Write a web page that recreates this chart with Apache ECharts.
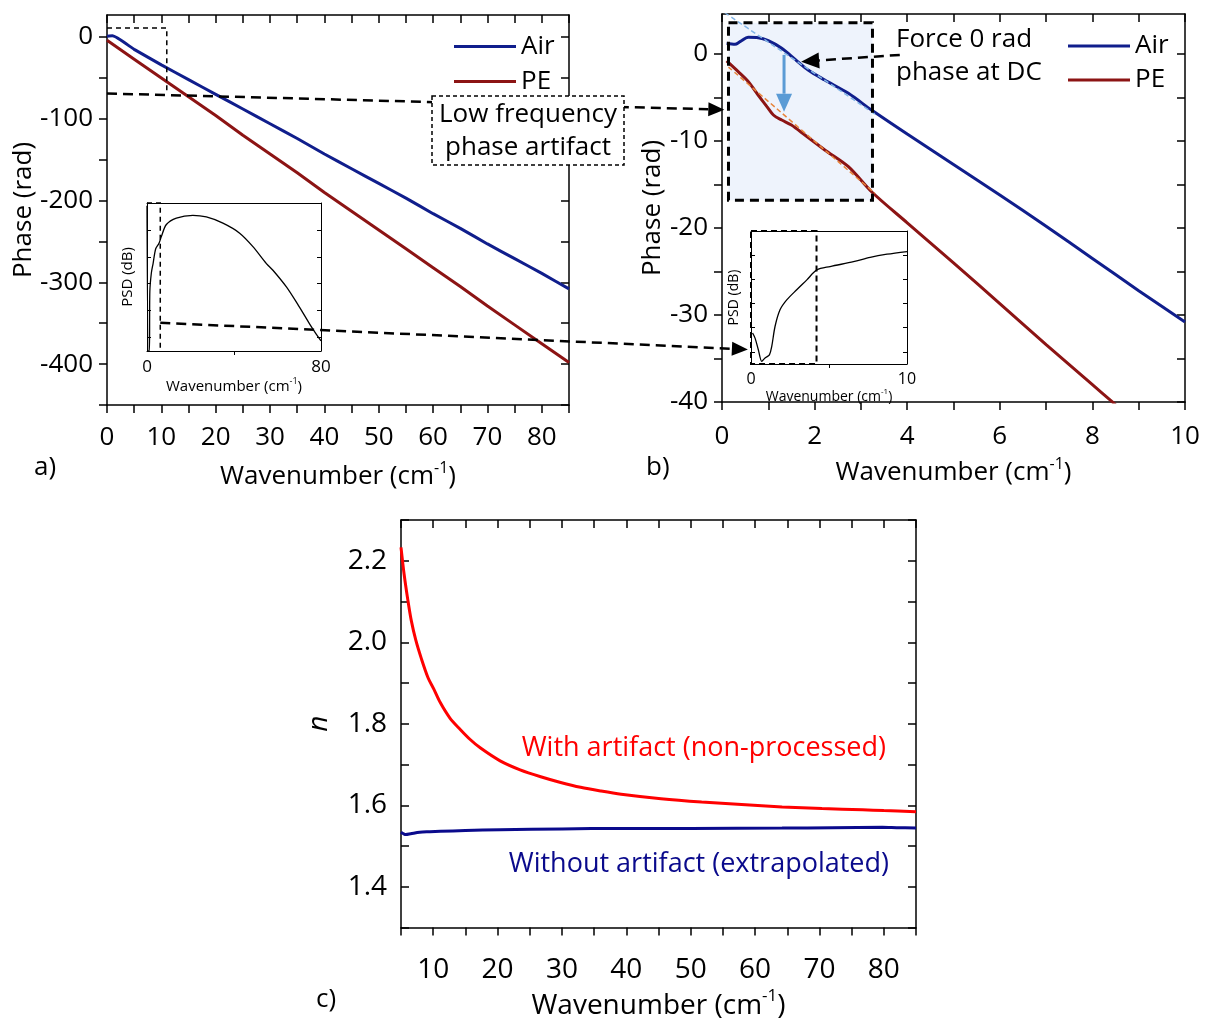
<!DOCTYPE html>
<html>
<head>
<meta charset="utf-8">
<script src="https://cdn.jsdelivr.net/npm/echarts@6/dist/echarts.min.js"></script>
<style>
html, body { margin: 0; background: #fff; }
#main { width: 1210px; height: 1021px; }
</style>
</head>
<body>
<div id="main"></div>
<script>
// a) phase, 0-85 cm-1
var aAirX = [0, 1, 5, 10, 15, 20, 25, 30, 35, 40, 45, 50, 55, 60, 65, 70, 75, 80, 85];
var aAirY = [1, 1.5, -15, -34, -52, -70, -88, -106, -124, -143, -161, -179, -197, -216, -234, -253, -271, -289, -308];
var aPeX = [0, 5, 10, 15, 20, 25, 30, 35, 40, 45, 50, 55, 60, 65, 70, 75, 80, 85];
var aPeY = [-4, -27, -50, -73, -96, -120, -143, -166, -190, -213, -236, -259, -282, -305, -329, -352, -375, -398];

// b) phase, 0-10 cm-1
var bAirX = [0.1, 0.28, 0.39, 0.57, 0.78, 1.0, 1.29, 1.58, 1.86, 2.22, 2.73, 3.23, 4, 5, 6, 7, 8, 9, 10];
var bAirY = [1.23, 1.11, 1.42, 1.92, 1.88, 1.53, 0.66, -0.61, -1.84, -2.99, -4.52, -6.44, -9.2, -12.7, -16.2, -19.8, -23.5, -27.2, -30.8];
var bPeX = [0.1, 0.35, 0.57, 0.78, 0.97, 1.11, 1.29, 1.5, 1.79, 2.22, 2.73, 3.23, 4, 5, 6, 7, 8, 8.5];
var bPeY = [-0.8, -2.03, -3.18, -4.71, -6.05, -7.01, -7.59, -8.16, -9.31, -11.03, -12.95, -15.83, -19.4, -24.0, -28.7, -33.4, -38.0, -40.3];
var bAirFitX = [0.06, 3.3];
var bAirFitY = [4.75, -6.9];
var bPeFitX = [0.14, 3.3];
var bPeFitY = [-1.5, -16.0];

// c) refractive index
var cRedX = [5, 5.5, 6.06, 6.6, 7.3, 8.2, 9.2, 10.1, 11.1, 12.6, 14.2, 15.7, 17.3, 20.4, 23.5, 26.7, 29.8, 32.9, 36, 39.2, 45.4, 51.7, 57.9, 64.2, 70.4, 76.7, 80, 85];
var cRedY = [2.233, 2.165, 2.104, 2.053, 2.005, 1.958, 1.913, 1.885, 1.852, 1.814, 1.786, 1.762, 1.741, 1.709, 1.687, 1.670, 1.656, 1.644, 1.635, 1.627, 1.616, 1.608, 1.602, 1.596, 1.592, 1.589, 1.587, 1.584];
var cBlueX = [5, 5.4, 5.75, 6.5, 7.9, 9.5, 11.1, 15, 20.4, 30, 39.2, 50, 64.2, 72, 79.8, 82, 85];
var cBlueY = [1.534, 1.530, 1.528, 1.530, 1.534, 1.535, 1.536, 1.538, 1.540, 1.542, 1.543, 1.543, 1.544, 1.545, 1.546, 1.545, 1.544];

// insets: PSD (dB)
var insAX = [0, 0.6, 1.1, 1.3, 2.0, 2.8, 4.0, 5.5, 6.6, 8.9, 13.5, 21.1, 27.3, 34.9, 42.6, 48.7, 54.9, 57.9, 64.1, 70.1, 74.8, 77.8, 80];
var insAY = [-1, -55, -55, -33, -26, -22.5, -17, -15, -12.5, -8, -5.6, -4.6, -5.2, -7.5, -11.2, -16.2, -22.5, -25, -31.2, -38.7, -45, -48.7, -51.2];
var insBX = [0.1, 0.26, 0.47, 0.69, 0.9, 1.18, 1.33, 1.54, 1.86, 2.29, 2.93, 3.58, 4.22, 5.07, 6.57, 7.64, 8.72, 10];
var insBY = [-42.2, -44.3, -49.1, -53.9, -52.5, -51.2, -47.7, -39.5, -32.6, -28.5, -24.3, -20.2, -16.1, -14.7, -12.7, -10.9, -9.6, -8.5];

var FONT = 'Open Sans';
var AIR = '#101e8c', PE = '#8c1414';

function zip(xs, ys) {
  var out = [];
  for (var i = 0; i < xs.length; i++) out.push([xs[i], ys[i]]);
  return out;
}
function range(a, b, step) {
  var out = [];
  for (var v = a; v <= b + 1e-9; v += step) out.push(Math.round(v * 1000) / 1000);
  return out;
}

var wavenumber = 'Wavenumber (cm{sup|-1})';

function mkAxes(g, o) {
  var line = {onZero: false, lineStyle: {color: '#000', width: o.lw}};
  var tick = function (vals, inside) {
    if (!vals.length) return {show: false};
    return {customValues: vals, inside: inside, length: o.tl, lineStyle: {color: '#000', width: o.lw}};
  };
  var nameStyle = {
    color: '#000', fontSize: o.nfs, fontFamily: FONT, fontStyle: o.italicY ? 'italic' : 'normal',
    rich: {sup: {fontSize: Math.round(o.nfs * 0.6), fontFamily: FONT, color: '#000', padding: [0, 0, Math.round(o.nfs * 0.7), 0]}}
  };
  var xNameStyle = Object.assign({}, nameStyle, {fontStyle: 'normal'});
  var lab = function (vals, m, fmt) {
    if (!vals.length) return {show: false};
    var l = {customValues: vals, margin: m, color: '#000', fontSize: o.fs, fontFamily: FONT};
    if (fmt) l.formatter = fmt;
    return l;
  };
  var x = [
    {type: 'value', gridIndex: g, position: 'bottom', min: o.xr[0], max: o.xr[1], splitLine: {show: false},
      axisLine: line, axisTick: tick(o.xT, !o.xOut), axisLabel: lab(o.xL, o.xm),
      name: o.xName, nameLocation: 'middle', nameGap: o.xg, nameTextStyle: xNameStyle},
    {type: 'value', gridIndex: g, position: 'top', min: o.xr[0], max: o.xr[1], splitLine: {show: false},
      axisLine: line, axisTick: tick(o.xTopT || o.xT, true), axisLabel: {show: false}}
  ];
  var y = [
    {type: 'value', gridIndex: g, position: 'left', min: o.yr[0], max: o.yr[1], splitLine: {show: false},
      axisLine: line, axisTick: tick(o.yT, !o.yOut), axisLabel: lab(o.yL, o.ym, o.yFmt),
      name: o.yName, nameLocation: 'middle', nameGap: o.yg, nameTextStyle: nameStyle},
    {type: 'value', gridIndex: g, position: 'right', min: o.yr[0], max: o.yr[1], splitLine: {show: false},
      axisLine: line, axisTick: tick(o.yT, true), axisLabel: {show: false}}
  ];
  return {x: x, y: y};
}

var panels = [
  mkAxes(0, {xr: [0, 85], yr: [-450, 27], xT: range(0, 85, 5), xL: range(0, 80, 10), yT: range(-450, 0, 50), yL: range(-400, 0, 100),
    fs: 26, nfs: 26, lw: 1.5, tl: 8, xOut: true, yOut: true, xm: 20, ym: 14, xg: 55, yg: 68,
    xName: wavenumber, yName: 'Phase (rad)'}),
  mkAxes(1, {xr: [0, 10], yr: [-40, 4.6], xT: range(0, 10, 1), xL: range(0, 10, 2), yT: range(-40, 0, 5), yL: range(-40, 0, 10),
    fs: 26, nfs: 26, lw: 1.5, tl: 8, xOut: true, yOut: true, xm: 22, ym: 14, xg: 54, yg: 55,
    xName: wavenumber, yName: 'Phase (rad)'}),
  mkAxes(2, {xr: [5, 85], yr: [1.3, 2.3], xT: range(5, 85, 5), xL: range(10, 80, 10), yT: range(1.3, 2.3, 0.1), yL: range(1.4, 2.2, 0.2),
    fs: 28, nfs: 28, lw: 1.5, tl: 8, xOut: true, yOut: false, xm: 29, ym: 14, xg: 60, yg: 68,
    xName: wavenumber, yName: 'n', italicY: true, yFmt: function (v) { return v.toFixed(1); }}),
  mkAxes(3, {xr: [0, 80], yr: [-55, 0], xT: [40], xTopT: [], xL: [0, 80], yT: range(-50, -10, 10), yL: [],
    fs: 17, nfs: 15, lw: 1, tl: 4, xOut: true, yOut: false, xm: 8, ym: 4, xg: 22, yg: 12,
    xName: wavenumber, yName: 'PSD (dB)'}),
  mkAxes(4, {xr: [0, 10], yr: [-55, 0], xT: [5], xTopT: [], xL: [0, 10], yT: range(-50, -10, 10), yL: [],
    fs: 16, nfs: 14, lw: 1, tl: 4, xOut: true, yOut: false, xm: 7, ym: 4, xg: 18, yg: 10,
    xName: wavenumber, yName: 'PSD (dB)'})
];

var xAxes = [], yAxes = [];
panels.forEach(function (p) { xAxes = xAxes.concat(p.x); yAxes = yAxes.concat(p.y); });

function ser(name, p, data, color, width, dashed, z, smooth) {
  return {
    name: name, type: 'line', xAxisIndex: 2 * p, yAxisIndex: 2 * p, data: data, symbol: 'none',
    smooth: smooth === undefined ? 0.3 : smooth, color: color, z: z || 3,
    lineStyle: {color: color, width: width, type: dashed ? [5, 3] : 'solid'}
  };
}

var option = {
  animation: false,
  backgroundColor: '#fff',
  grid: [
    {left: 107, top: 15, width: 462, height: 390},
    {left: 722, top: 14, width: 463, height: 388},
    {left: 401, top: 520, width: 515, height: 417},
    {left: 147, top: 203, width: 174, height: 148},
    {left: 751, top: 231, width: 156, height: 133}
  ],
  xAxis: xAxes,
  yAxis: yAxes,
  legend: [
    {orient: 'vertical', left: 449, top: 24, itemGap: 0, itemWidth: 62, itemHeight: 3, icon: 'rect',
      data: ['Air', 'PE'], textStyle: {fontSize: 26, fontFamily: FONT, color: '#000', lineHeight: 35}, selectedMode: false},
    {orient: 'vertical', left: 1063, top: 24, itemGap: 0, itemWidth: 62, itemHeight: 3, icon: 'rect',
      data: ['Air', 'PE'], textStyle: {fontSize: 26, fontFamily: FONT, color: '#000', lineHeight: 34}, selectedMode: false}
  ],
  series: [
    ser('Air', 0, zip(aAirX, aAirY), AIR, 3, false, 3, 0.15),
    ser('PE', 0, zip(aPeX, aPeY), PE, 3, false, 3, 0),
    ser('Air', 1, zip(bAirX, bAirY), AIR, 3),
    ser('PE', 1, zip(bPeX, bPeY), PE, 3),
    ser('Air fit', 1, zip(bAirFitX, bAirFitY), '#82b4e6', 1.5, true, 4),
    ser('PE fit', 1, zip(bPeFitX, bPeFitY), '#e8843a', 1.5, true, 4),
    ser('With artifact', 2, zip(cRedX, cRedY), '#ff0000', 3),
    ser('Without artifact', 2, zip(cBlueX, cBlueY), '#0a0a8c', 3),
    ser('PSD a', 3, zip(insAX, insAY), '#000', 1.3, false, 6),
    ser('PSD b', 4, zip(insBX, insBY), '#000', 1.3, false, 6)
  ]
};

var chart = echarts.init(document.getElementById('main'), null, {renderer: 'canvas'});
chart.setOption(option);

// annotations placed through the axes
function px(i, pt) { return chart.convertToPixel({xAxisIndex: i, yAxisIndex: i}, pt); }
var gfx = [];
function poly(pts, color, w, dash, z) {
  gfx.push({type: 'polyline', z: z || 50, shape: {points: pts},
    style: {stroke: color, lineWidth: w, lineDash: dash || null, fill: null}});
}
function arrow(a, b, color, w, dash, len, half, z) {
  var dx = b[0] - a[0], dy = b[1] - a[1], L = Math.sqrt(dx * dx + dy * dy);
  var ux = dx / L, uy = dy / L;
  var base = [b[0] - ux * len, b[1] - uy * len];
  poly([a, base], color, w, dash, z);
  gfx.push({type: 'polygon', z: z || 50, shape: {points: [b, [base[0] - uy * half, base[1] + ux * half], [base[0] + uy * half, base[1] - ux * half]]},
    style: {fill: color, stroke: null}});
}

// a: low frequency window and link to b
poly([px(0, [0, 11]), px(0, [11, 11]), px(0, [11, -69])], '#000', 1.5, [5, 4]);
arrow(px(0, [0, -69]), px(2, [0.05, -6.4]), '#000', 2.5, [10, 6], 16, 7);
// inset windows and link
poly([px(6, [0, 0]), px(6, [6.1, 0]), px(6, [6.1, -55])], '#000', 1.5, [5, 4], 60);
arrow(px(6, [6.1, -44.5]), px(8, [-0.2, -49]), '#000', 2.5, [10, 6], 16, 7, 60);
poly([px(8, [0, 0]), px(8, [4.2, 0]), px(8, [4.2, -55]), px(8, [0, -55]), px(8, [0, 0])], '#000', 2, [6, 4], 60);

// b: shaded zone
var s1 = px(2, [0.14, 3.6]), s2 = px(2, [3.25, -16.8]);
gfx.push({type: 'rect', z: 1, shape: {x: s1[0], y: s1[1], width: s2[0] - s1[0], height: s2[1] - s1[1]},
  style: {fill: '#eef3fc', stroke: null}});
gfx.push({type: 'rect', z: 50, shape: {x: s1[0], y: s1[1], width: s2[0] - s1[0], height: s2[1] - s1[1]},
  style: {fill: null, stroke: '#000', lineWidth: 3, lineDash: [9, 6]}});
arrow(px(2, [1.34, -0.1]), px(2, [1.34, -6.63]), '#5b9bd5', 3, null, 18, 8, 55);
arrow(px(2, [3.84, -0.1]), px(2, [1.71, -0.88]), '#000', 2.5, [10, 6], 18, 8, 55);

// text
var T = function (x, y, text, size, color, align, extra) {
  var s = {text: text, fontSize: size, fontFamily: FONT, fill: color || '#000', textAlign: align || 'left', textVerticalAlign: 'middle'};
  if (extra) Object.assign(s, extra);
  gfx.push({type: 'text', z: 70, x: x, y: y, style: s});
};
gfx.push({type: 'rect', z: 65, shape: {x: 432, y: 96, width: 192, height: 69},
  style: {fill: '#fff', stroke: '#000', lineWidth: 1.5, lineDash: [4, 3]}});
T(528, 131, 'Low frequency\nphase artifact', 26, '#000', 'center', {lineHeight: 33});
T(896, 56, 'Force 0 rad\nphase at DC', 26, '#000', 'left', {lineHeight: 33});
T(886, 748, 'With artifact (non-processed)', 27, '#ff0000', 'right');
T(889, 864, 'Without artifact (extrapolated)', 27, '#0a0a8c', 'right');
T(34, 468, 'a)', 26);
T(646, 468, 'b)', 26);
T(316, 1000, 'c)', 26);

chart.setOption({graphic: {elements: gfx}});
</script>
</body>
</html>
